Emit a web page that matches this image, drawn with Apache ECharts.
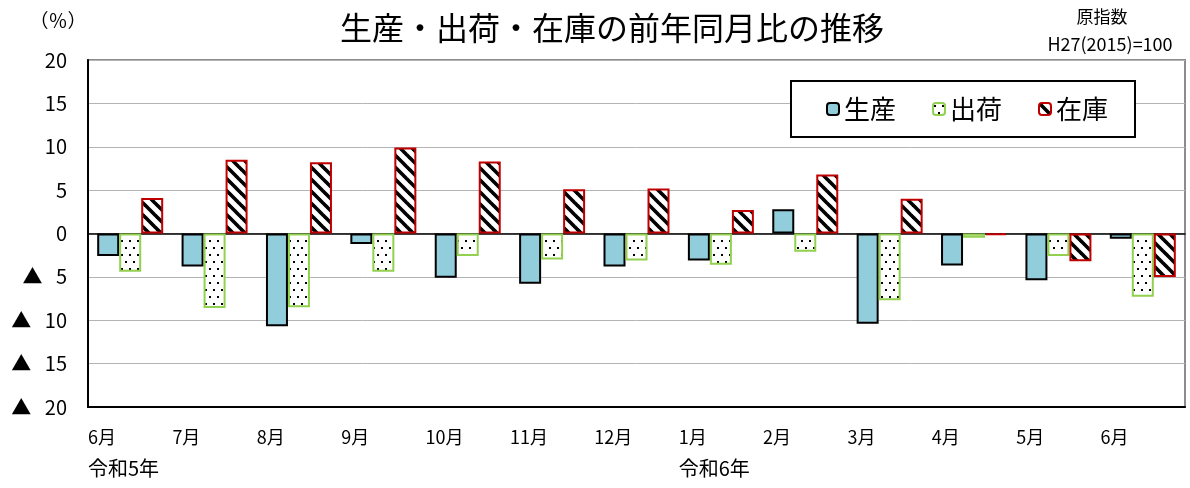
<!DOCTYPE html>
<html>
<head>
<meta charset="utf-8">
<script src="https://cdn.jsdelivr.net/npm/echarts@6/dist/echarts.min.js"></script>
<style>
html,body{margin:0;padding:0;background:#fff;}
#chart{width:1190px;height:488px;}
</style>
</head>
<body>
<div id="chart"></div>
<script>
// ---- data ----
const categories = ['6月','7月','8月','9月','10月','11月','12月','1月','2月','3月','4月','5月','6月'];
const eraLabels = ['令和5年','','','','','','','令和6年','','','','',''];
const seriesNames = ['生産','出荷','在庫'];
const production = [-2.6,-3.8,-10.7,-1.2,-5.1,-5.8,-3.8,-3.1,2.8,-10.4,-3.7,-5.4,-0.6];
const shipment   = [-4.4,-8.6,-8.5,-4.4,-2.6,-3.0,-3.1,-3.6,-2.1,-7.7,-0.5,-2.6,-7.3];
const inventory  = [4.1,8.5,8.2,9.9,8.3,5.1,5.2,2.7,6.8,4.0,-0.2,-3.2,-5.0];
const yMin = -20, yMax = 20, yStep = 5;

const FONT = '"Noto Sans CJK JP", "Noto Sans", sans-serif';

function dotPattern(){
  const c = document.createElement('canvas');
  c.width = 8; c.height = 14;
  const g = c.getContext('2d');
  g.fillStyle = '#fff'; g.fillRect(0,0,8,14);
  g.fillStyle = '#000';
  g.fillRect(1,2,2,2);
  g.fillRect(5,9,2,2);
  return c;
}
function stripePattern(){
  const s = 12;
  const c = document.createElement('canvas');
  c.width = s; c.height = s;
  const g = c.getContext('2d');
  g.fillStyle = '#fff'; g.fillRect(0,0,s,s);
  g.strokeStyle = '#000'; g.lineWidth = 3.6;
  for (const k of [-s, 0, s]) {
    g.beginPath();
    g.moveTo(k-3, -3);
    g.lineTo(k+s+3, s+3);
    g.stroke();
  }
  return c;
}

const chart = echarts.init(document.getElementById('chart'), null, {renderer:'canvas'});
const option = {
  backgroundColor: '#fff',
  animation: false,
  textStyle: { fontFamily: FONT },
  graphic: [
    { type:'text', style:{ text:'生産・出荷・在庫の前年同月比の推移', x:612, y:28, textAlign:'center', textVerticalAlign:'middle', font:'32px '+FONT, fill:'#000' } },
    { type:'text', style:{ text:'（％）', x:58, y:21, textAlign:'center', textVerticalAlign:'middle', font:'19px '+FONT, fill:'#000' } },
    { type:'text', style:{ text:'原指数', x:1102, y:17, textAlign:'center', textVerticalAlign:'middle', font:'17px '+FONT, fill:'#000' } },
    { type:'text', style:{ text:'H27(2015)=100', x:1110, y:44, textAlign:'center', textVerticalAlign:'middle', font:'18px '+FONT, fill:'#000' } }
  ],
  legend: {
    left: 791, top: 81,
    padding: [15, 27, 15, 35],
    itemGap: 36,
    itemWidth: 12, itemHeight: 12,
    borderColor: '#000', borderWidth: 2,
    backgroundColor: '#fff',
    textStyle: { fontSize: 26, color: '#000', fontFamily: FONT },
    data: seriesNames
  },
  grid: {
    left: 88, right: 5, top: 60, bottom: 81,
    show: true, borderColor: '#8c8c8c', borderWidth: 2
  },
  xAxis: [
    {
      type: 'category', data: categories, boundaryGap: true,
      axisLine: { show: true, onZero: true, lineStyle: { color: '#000', width: 1.5 } },
      axisTick: { show: false }, axisLabel: { show: false }, splitLine: { show: false }
    },
    {
      type: 'category', data: categories.concat(['']), boundaryGap: false, position: 'bottom',
      axisLine: { show: true, onZero: false, lineStyle: { color: '#000', width: 2 } },
      axisTick: { show: false }, splitLine: { show: false },
      axisLabel: {
        interval: 0, align: 'left', verticalAlign: 'top', margin: 19,
        formatter: function(v, i){
          if (i >= categories.length) return '';
          return '{m|' + v + '}\n{y|' + (eraLabels[i] || ' ') + '}';
        },
        rich: {
          m: { fontSize: 18, lineHeight: 22, color: '#000', fontFamily: FONT },
          y: { fontSize: 20, lineHeight: 40, color: '#000', fontFamily: FONT }
        }
      }
    }
  ],
  yAxis: {
    type: 'value', min: yMin, max: yMax, interval: yStep,
    axisLine: { show: true, lineStyle: { color: '#000', width: 2 } },
    axisTick: { show: false },
    splitLine: { show: true, lineStyle: { color: '#b4b4b4', width: 1 } },
    axisLabel: {
      margin: 21, fontSize: 20, color: '#000', fontFamily: FONT,
      formatter: function(v){ return v < 0 ? '▲   ' + (-v) : String(v); }
    }
  },
  series: [
    {
      name: seriesNames[0], type: 'bar', xAxisIndex: 0, data: production,
      barWidth: 22, barGap: '0%',
      itemStyle: { color: '#92cddc', borderColor: '#000', borderWidth: 2 }
    },
    {
      name: seriesNames[1], type: 'bar', xAxisIndex: 0, data: shipment,
      barWidth: 22, barGap: '0%',
      itemStyle: { color: { image: dotPattern(), repeat: 'repeat' }, borderColor: '#92d050', borderWidth: 2 }
    },
    {
      name: seriesNames[2], type: 'bar', xAxisIndex: 0, data: inventory,
      barWidth: 22, barGap: '0%',
      itemStyle: { color: { image: stripePattern(), repeat: 'repeat' }, borderColor: '#c00000', borderWidth: 2 }
    }
  ]
};
chart.setOption(option);
</script>
</body>
</html>
